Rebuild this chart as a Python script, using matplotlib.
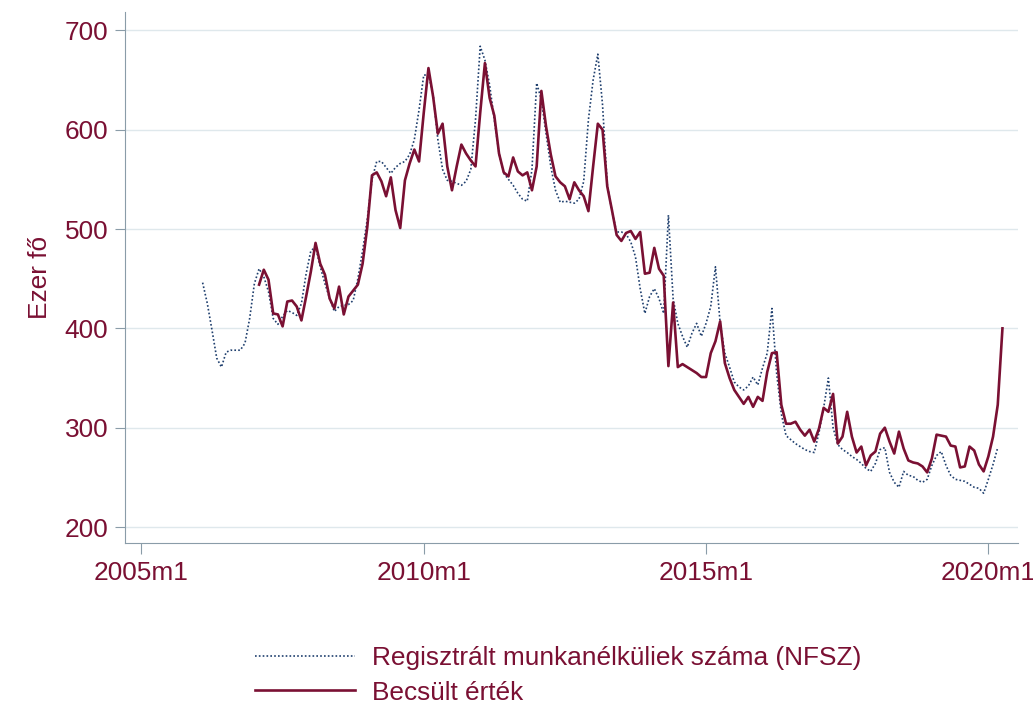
import matplotlib
matplotlib.use("Agg")
import matplotlib.pyplot as plt

# havi adatok, honap index: 0 = 2005m1
nfsz_start = 13
nfsz = [446, 425, 398, 370, 361, 376, 378, 378, 378, 385, 410, 445,
        460, 452, 437, 410, 404, 412, 418, 416, 413, 425, 455, 478,
        482, 462, 445, 430, 417, 422, 423, 424, 428, 450, 478, 510,
        550, 568, 568, 562, 556, 562, 566, 568, 575, 590, 620, 655,
        655, 635, 590, 560, 549, 548, 546, 544, 548, 560, 610, 684,
        670, 645, 610, 576, 556, 550, 544, 536, 530, 528, 560, 647,
        630, 596, 563, 539, 527, 528, 527, 526, 530, 548, 610, 650,
        676, 625, 545, 518, 497, 497, 495, 487, 472, 440, 415, 432,
        440, 430, 415, 514, 430, 405, 392, 381, 395, 405, 392, 405,
        422, 462, 405, 375, 361, 346, 341, 338, 342, 351, 343, 360,
        375, 420, 355, 314, 292, 288, 284, 281, 278, 276, 275, 295,
        320, 350, 300, 283, 278, 275, 271, 268, 264, 259, 256, 264,
        278, 280, 255, 245, 240, 256, 252, 251, 247, 245, 248, 262,
        272, 276, 262, 252, 248, 247, 246, 243, 240, 239, 234, 248,
        263, 280]

becsult_start = 25
becsult = [444, 459, 449, 415, 414, 402, 427, 428, 422, 408, 432, 457,
           486, 465, 454, 430, 420, 442, 414, 432, 438, 444, 465, 502,
           554, 557, 548, 533, 552, 519, 501, 549, 566, 580, 568, 617,
           662, 633, 596, 606, 563, 539, 563, 585, 576, 569, 563, 617,
           667, 632, 614, 576, 557, 553, 572, 558, 554, 557, 539, 563,
           639, 603, 575, 553, 547, 543, 530, 547, 539, 533, 518, 563,
           606, 600, 543, 519, 494, 488, 496, 498, 490, 497, 455, 456,
           481, 460, 453, 362, 426, 361, 364, 361, 358, 355, 351, 351,
           375, 387, 407, 365, 350, 338, 331, 324, 331, 321, 331, 327,
           356, 375, 376, 323, 304, 304, 306, 298, 292, 298, 286, 299,
           320, 316, 334, 284, 291, 316, 291, 275, 281, 262, 272, 276,
           294, 300, 286, 274, 296, 279, 267, 265, 264, 261, 255, 269,
           293, 292, 291, 282, 281, 260, 261, 281, 277, 263, 256, 271,
           291, 323, 400]

tick_pos = [0, 60, 120, 180]
tick_labels = ["2005m1", "2010m1", "2015m1", "2020m1"]
y_ticks = [200, 300, 400, 500, 600, 700]

piros = "#7a1033"
kek = "#1f3f6e"
szurke = "#8a9ca8"
betu = 18.9

plt.rcParams["font.family"] = ["Liberation Sans", "DejaVu Sans"]

fig = plt.figure(figsize=(10.33, 7.03), dpi=100)
ax = fig.add_axes([0.121, 0.227, 0.864, 0.756])

x1 = [nfsz_start + i for i in range(len(nfsz))]
x2 = [becsult_start + i for i in range(len(becsult))]
ax.plot(x1, nfsz, color=kek, linestyle=(0, (1, 1.3)), linewidth=1.2,
        label="Regisztrált munkanélküliek száma (NFSZ)")
ax.plot(x2, becsult, color=piros, linewidth=1.9, label="Becsült érték")

ax.set_xlim(-3.5, 186.2)
ax.set_ylim(183.5, 718.5)
ax.set_xticks(tick_pos)
ax.set_xticklabels(tick_labels)
ax.set_yticks(y_ticks)
ax.grid(axis="y", color="#dfe8ec", linewidth=1)
ax.set_axisbelow(True)

for s in ["top", "right"]:
    ax.spines[s].set_visible(False)
for s in ["left", "bottom"]:
    ax.spines[s].set_color(szurke)
ax.tick_params(axis="both", colors=szurke, labelcolor=piros, labelsize=betu)
ax.tick_params(axis="y", length=7, pad=5)
ax.tick_params(axis="x", length=8, pad=5)
ax.set_ylabel("Ezer fő", color=piros, fontsize=betu, labelpad=9)

leg = fig.legend(loc="upper left", bbox_to_anchor=(0.247, 0.081), frameon=False,
                 fontsize=betu, handlelength=3.8, handletextpad=0.65,
                 labelspacing=0.4, borderpad=0, borderaxespad=0)
for t in leg.get_texts():
    t.set_color(piros)

plt.savefig("out.png", dpi=100)
